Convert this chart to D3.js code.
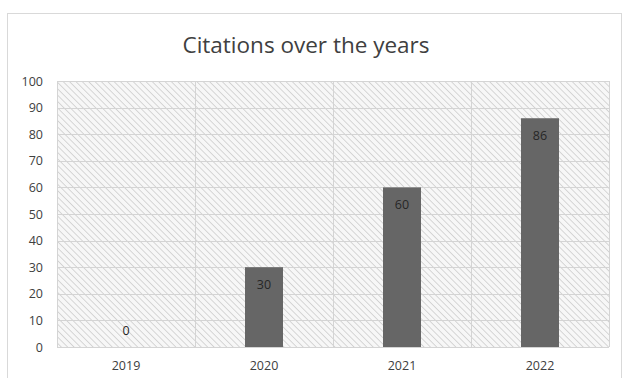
<!DOCTYPE html>
<html>
<head>
<meta charset="utf-8">
<script src="https://cdn.jsdelivr.net/npm/d3@7"></script>
<style>
  html, body { margin: 0; padding: 0; background: #fff; }
  svg { display: block; }
  text { font-family: "Open Sans", Lato, "Liberation Sans", sans-serif; }
</style>
</head>
<body>
<script>
// Chart data
const years = ["2019", "2020", "2021", "2022"];
const citations = [0, 30, 60, 86];
const yTicks = [0, 10, 20, 30, 40, 50, 60, 70, 80, 90, 100];
const chartTitle = "Citations over the years";

const W = 624, H = 378;
const plot = { left: 57, right: 609, top: 81, bottom: 347 };

const svg = d3.select("body").append("svg")
  .attr("width", W).attr("height", H);

// Diagonal hatch fill for the plot background
const defs = svg.append("defs");
const pat = defs.append("pattern")
  .attr("id", "hatch")
  .attr("patternUnits", "userSpaceOnUse")
  .attr("width", 4.5).attr("height", 4.5)
  .attr("patternTransform", "rotate(-45)");
pat.append("rect").attr("width", 4.5).attr("height", 4.5).attr("fill", "#f7f7f7");
pat.append("line")
  .attr("x1", 0).attr("y1", 0).attr("x2", 0).attr("y2", 4.5)
  .attr("stroke", "#d2d2d2").attr("stroke-width", 1.8);

// Outer chart frame
svg.append("rect")
  .attr("x", 7.5).attr("y", 13.5)
  .attr("width", 614).attr("height", 380)
  .attr("fill", "#fff")
  .attr("stroke", "#d9d9d9").attr("stroke-width", 1);

// Title
svg.append("text")
  .attr("x", 306).attr("y", 53)
  .attr("text-anchor", "middle")
  .attr("font-size", 22.5)
  .attr("fill", "#404040")
  .text(chartTitle);

const x = d3.scaleBand()
  .domain(years)
  .range([plot.left, plot.right])
  .paddingInner(0).paddingOuter(0);

const y = d3.scaleLinear()
  .domain([0, 100])
  .range([plot.bottom, plot.top]);

// Plot background
svg.append("rect")
  .attr("x", plot.left).attr("y", plot.top)
  .attr("width", plot.right - plot.left)
  .attr("height", plot.bottom - plot.top)
  .attr("fill", "url(#hatch)");

// Horizontal gridlines
svg.append("g")
  .selectAll("line")
  .data(yTicks)
  .join("line")
  .attr("x1", plot.left).attr("x2", plot.right)
  .attr("y1", d => Math.round(y(d)) + 0.5)
  .attr("y2", d => Math.round(y(d)) + 0.5)
  .attr("stroke", "#d4d4d4").attr("stroke-width", 1);

// Vertical category separators
const bounds = years.map(d => x(d)).concat([plot.right]);
svg.append("g")
  .selectAll("line")
  .data(bounds)
  .join("line")
  .attr("x1", d => Math.round(d) + 0.5).attr("x2", d => Math.round(d) + 0.5)
  .attr("y1", plot.top).attr("y2", plot.bottom)
  .attr("stroke", "#d4d4d4").attr("stroke-width", 1);

// Y axis labels
const yAxis = d3.axisLeft(y).tickValues(yTicks).tickSize(0).tickPadding(0);
const gy = svg.append("g")
  .attr("transform", `translate(43,0)`)
  .call(yAxis);
gy.select(".domain").remove();
gy.selectAll("text")
  .attr("font-size", 12.5)
  .attr("fill", "#404040")
  .attr("font-family", "\"Open Sans\", Lato, sans-serif");

// X axis labels
const xAxis = d3.axisBottom(x).tickSize(0).tickPadding(0);
const gx = svg.append("g")
  .attr("transform", `translate(0,361)`)
  .call(xAxis);
gx.select(".domain").remove();
gx.selectAll("text")
  .attr("font-size", 12.5)
  .attr("fill", "#404040")
  .attr("font-family", "\"Open Sans\", Lato, sans-serif");

// Bars
const barW = 38;
const data = years.map((yr, i) => ({ year: yr, value: citations[i] }));
svg.append("g")
  .selectAll("rect")
  .data(data)
  .join("rect")
  .attr("x", d => x(d.year) + x.bandwidth() / 2 - barW / 2)
  .attr("y", d => y(d.value))
  .attr("width", barW)
  .attr("height", d => y(0) - y(d.value))
  .attr("fill", "#666666");

// Value labels at the inside end of each bar
svg.append("g")
  .selectAll("text")
  .data(data)
  .join("text")
  .attr("x", d => x(d.year) + x.bandwidth() / 2)
  .attr("y", d => d.value === 0 ? y(0) - 12 : y(d.value) + 22)
  .attr("text-anchor", "middle")
  .attr("font-size", 12.5)
  .attr("fill", "#262626")
  .text(d => d.value);
</script>
</body>
</html>
